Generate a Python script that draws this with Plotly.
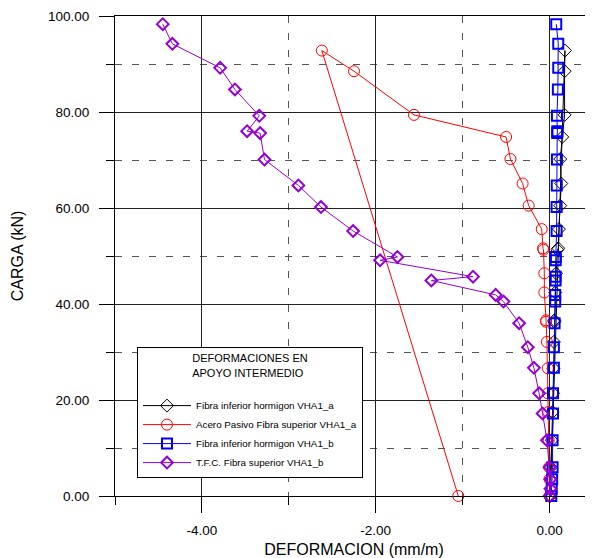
import plotly.graph_objects as go

# ---- data ----
# VHA1_a series (shared load steps)
carga_a = [0.0, 3.5, 6.0, 11.6, 17.5, 21.4, 26.6, 32.1, 36.3, 36.6, 42.4, 46.4,
           51.3, 51.6, 55.6, 60.5, 65.1, 70.2, 74.8, 79.4, 88.5, 92.8, 0.0]
def_inf_a = [0.0, 0.01, 0.015, 0.025, 0.035, 0.04, 0.045, 0.05, 0.055, 0.055, 0.065, 0.075,
             0.09, 0.10, 0.108, 0.123, 0.135, 0.123, 0.146, 0.173, 0.173, 0.177, 0.01]
def_acero_a = [0.0, 0.0, -0.005, -0.01, -0.015, -0.02, -0.02, -0.03, -0.04, -0.04, -0.06, -0.06,
               -0.07, -0.075, -0.09, -0.24, -0.31, -0.45, -0.50, -1.56, -2.25, -2.62, -1.05]

# VHA1_b series (shared load steps)
carga_b = [0.0, 1.5, 3.5, 6.0, 11.6, 17.2, 21.4, 26.7, 31.0, 36.0, 40.5, 41.9, 44.9, 45.7,
           49.1, 49.8, 55.2, 60.2, 64.7, 70.1, 75.6, 76.0, 79.2, 84.7, 89.2, 94.2, 98.3]
def_inf_b = [0.02, 0.025, 0.03, 0.035, 0.035, 0.04, 0.04, 0.05, 0.05, 0.058, 0.065, 0.065,
             0.069, 0.069, 0.07, 0.072, 0.081, 0.081, 0.083, 0.085, 0.088, 0.09, 0.085,
             0.096, 0.10, 0.10, 0.077]
def_tfc_b = [0.0, 0.01, 0.01, 0.0, -0.03, -0.08, -0.12, -0.18, -0.25, -0.35, -0.53, -0.62,
             -1.36, -0.88, -1.95, -1.75, -2.26, -2.63, -2.89, -3.28, -3.33, -3.48, -3.34,
             -3.62, -3.79, -4.34, -4.45]

series_names = ["Fibra inferior hormigon VHA1_a",
                "Acero Pasivo Fibra superior VHA1_a",
                "Fibra inferior hormigon VHA1_b",
                "T.F.C. Fibra superior VHA1_b"]

x_tickvals = [-4, -2, 0]
x_ticktext = ["-4.00", "-2.00", "0.00"]
x_minor = [-5, -3, -1]
y_tickvals = [0, 20, 40, 60, 80, 100]
y_ticktext = ["0.00", "20.00", "40.00", "60.00", "80.00", "100.00"]
y_minor = [10, 30, 50, 70, 90]

FONT = "Arial, Liberation Sans, sans-serif"

fig = go.Figure()
styles = [
    dict(color="#000000", symbol="diamond-open", size=10, lw=1),
    dict(color="#FF0000", symbol="circle-open", size=11, lw=1),
    dict(color="#0000FF", symbol="square-open", size=10, lw=2),
    dict(color="#9400D3", symbol="diamond-open", size=9, lw=2),
]
xs = [def_inf_a, def_acero_a, def_inf_b, def_tfc_b]
ys = [carga_a, carga_a, carga_b, carga_b]
for name, x, y, st in zip(series_names, xs, ys, styles):
    fig.add_trace(go.Scatter(
        x=x, y=y, name=name, mode="lines+markers", cliponaxis=False,
        line=dict(color=st["color"], width=1),
        marker=dict(symbol=st["symbol"], size=st["size"], color=st["color"],
                    line=dict(color=st["color"], width=st["lw"])),
    ))

grid_dash = "7px,10px"
# the page body has an 8px margin, so the figure is 8px smaller than the window
fig.update_layout(
    width=585, height=550,
    margin=dict(l=107, r=0, t=8, b=62),
    paper_bgcolor="white", plot_bgcolor="white",
    font=dict(family=FONT, color="#000000"),
    showlegend=True,
    legend=dict(
        x=0.046, y=0.31, xanchor="left", yanchor="top",
        bgcolor="white", bordercolor="#000000", borderwidth=1,
        itemwidth=48,
        font=dict(size=9.8, family=FONT),
        title=dict(text="DEFORMACIONES EN<br>APOYO INTERMEDIO<br> ", side="top center",
                   font=dict(size=11, family=FONT)),
    ),
    xaxis=dict(
        range=[-5, 0.5], tickmode="array", tickvals=x_tickvals, ticktext=x_ticktext,
        ticks="outside", ticklen=16, tickcolor="#000000", tickwidth=1,
        ticklabelstandoff=6,
        showline=True, linecolor="#000000", linewidth=1, mirror=True,
        showgrid=True, gridcolor="#222222", gridwidth=1, zeroline=False,
        tickfont=dict(size=13.5),
        title=dict(text="DEFORMACION (mm/m)", font=dict(size=16), standoff=6),
        minor=dict(tickmode="array", tickvals=x_minor, ticks="outside", ticklen=8,
                   tickcolor="#000000", showgrid=True, gridcolor="#555555",
                   griddash=grid_dash, gridwidth=1),
    ),
    yaxis=dict(
        range=[0, 100], tickmode="array", tickvals=y_tickvals, ticktext=y_ticktext,
        ticks="outside", ticklen=15, tickcolor="#000000", tickwidth=1,
        ticklabelstandoff=7,
        showline=True, linecolor="#000000", linewidth=1,
        showgrid=True, gridcolor="#222222", gridwidth=1, zeroline=False,
        tickfont=dict(size=13.5),
        title=dict(text="CARGA (kN)", font=dict(size=16), standoff=20),
        minor=dict(tickmode="array", tickvals=y_minor, ticks="outside", ticklen=8,
                   tickcolor="#000000", showgrid=True, gridcolor="#555555",
                   griddash=grid_dash, gridwidth=1),
    ),
    xaxis2=dict(
        overlaying="x", anchor="y", side="bottom", range=[-5, 0.5],
        tickmode="array", tickvals=x_minor, ticks="inside", ticklen=6,
        tickcolor="#000000", showticklabels=False, showgrid=False,
        zeroline=False, showline=False,
    ),
    yaxis2=dict(
        overlaying="y", anchor="x", side="left", range=[0, 100],
        tickmode="array", tickvals=y_minor, ticks="inside", ticklen=7,
        tickcolor="#000000", showticklabels=False, showgrid=False,
        zeroline=False, showline=False,
    ),
)

fig.write_html("out.html")
